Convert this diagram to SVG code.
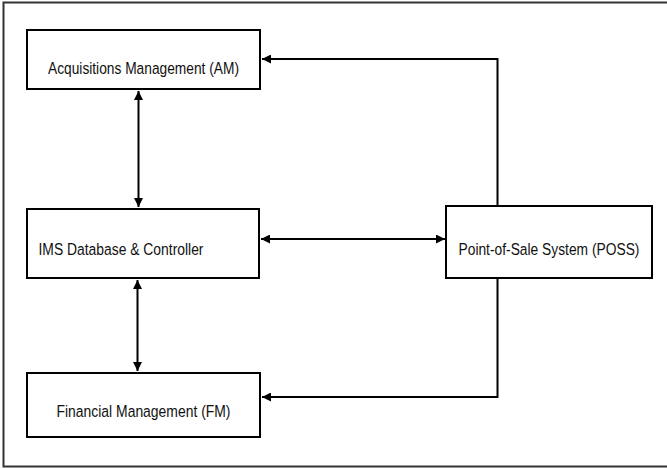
<svg xmlns="http://www.w3.org/2000/svg" width="667" height="468" viewBox="0 0 667 468">
<style>
.box{fill:#fff;stroke:#000;stroke-width:2}
.lbl{font-family:"Liberation Sans",Arial,sans-serif;font-size:17px;fill:#111}
.con{fill:none;stroke:#000;stroke-width:2}
</style>
<defs>
<marker id="ah" viewBox="0 0 10 10" refX="10" refY="5" markerWidth="9" markerHeight="9" markerUnits="userSpaceOnUse" orient="auto-start-reverse">
<path d="M0,0 L10,5 L0,10 z" fill="#000"/>
</marker>
</defs>
<rect x="3.5" y="2.5" width="700" height="464" fill="#fff" stroke="#333" stroke-width="2"/>
<g id="am"><rect class="box" x="27" y="30" width="233" height="59"/><text class="lbl" transform="translate(48,73.5) scale(0.82,1)" textLength="232.9" lengthAdjust="spacingAndGlyphs">Acquisitions Management (AM)</text></g>
<g id="db"><rect class="box" x="27" y="209" width="232" height="69"/><text class="lbl" transform="translate(38.5,255) scale(0.82,1)" textLength="201.2" lengthAdjust="spacingAndGlyphs">IMS Database &amp; Controller</text></g>
<g id="fm"><rect class="box" x="27" y="373" width="233" height="64"/><text class="lbl" transform="translate(56.5,417) scale(0.82,1)" textLength="212.2" lengthAdjust="spacingAndGlyphs">Financial Management (FM)</text></g>
<g id="poss"><rect class="box" x="446" y="206" width="206" height="72"/><text class="lbl" transform="translate(458.5,255) scale(0.82,1)" textLength="220.7" lengthAdjust="spacingAndGlyphs">Point-of-Sale System (POSS)</text></g>
<g id="connectors">
<line class="con" x1="138.5" y1="91" x2="138.5" y2="207" marker-start="url(#ah)" marker-end="url(#ah)"/>
<line class="con" x1="137.5" y1="280" x2="137.5" y2="371" marker-start="url(#ah)" marker-end="url(#ah)"/>
<line class="con" x1="261" y1="239" x2="445" y2="239" marker-start="url(#ah)" marker-end="url(#ah)"/>
<path class="con" d="M497.5,206 V59 H262" marker-end="url(#ah)"/>
<path class="con" d="M497.5,278 V397 H262" marker-end="url(#ah)"/>
</g>
</svg>
